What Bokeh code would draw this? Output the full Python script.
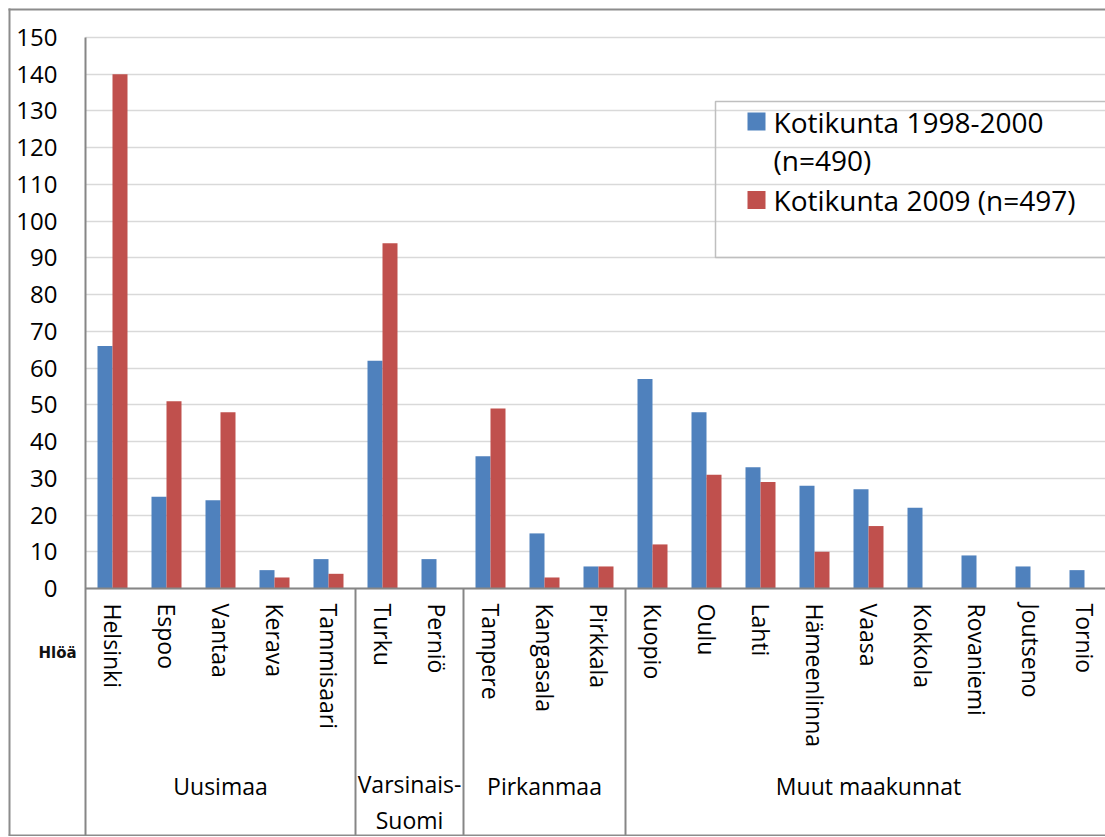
import numpy as np
from bokeh.plotting import figure
from bokeh.models import (Range1d, LinearAxis, FixedTicker, Grid)
from bokeh.core.properties import value
from bokeh.embed import file_html
from bokeh.resources import INLINE

# ---------------- data ----------------
cities = ["Helsinki", "Espoo", "Vantaa", "Kerava", "Tammisaari",
          "Turku", "Perniö",
          "Tampere", "Kangasala", "Pirkkala",
          "Kuopio", "Oulu", "Lahti", "Hämeenlinna", "Vaasa", "Kokkola",
          "Rovaniemi", "Joutseno", "Tornio"]
regions = ["Uusimaa", "Varsinais-\nSuomi", "Pirkanmaa", "Muut maakunnat"]
region_sizes = [5, 2, 3, 9]
v_1998_2000 = [66, 25, 24, 5, 8, 62, 8, 36, 15, 6, 57, 48, 33, 28, 27, 22, 9, 6, 5]
v_2009 = [140, 51, 48, 3, 4, 94, 0, 49, 3, 6, 12, 31, 29, 10, 17, 0, 0, 0, 0]
series_names = ["Kotikunta 1998-2000", "(n=490)", "Kotikunta 2009 (n=497)"]
y_ticks = list(range(0, 151, 10))
y_unit_label = "Hlöä"

# ---------------- layout helpers (page pixels -> data) ----------------
W, H = 1105, 836
X0_PX, CAT_PX = 85.0, 54.0          # page x of category axis start, px per category
Y0_PX, Y150_PX = 588.0, 37.0        # page y of value 0 and 150
PPU = (Y0_PX - Y150_PX) / 150.0


def xd(px):
    return (px - X0_PX) / CAT_PX


def yd(py):
    return (Y0_PX - py) / PPU


BLUE = "#4F81BD"
RED = "#C0504D"
AXIS = "#868686"
GRID = "#D9D9D9"
BORDER = "#8C8C8C"
FONT = "Open Sans"

p = figure(width=W, height=H, output_backend="svg", toolbar_location=None,
           x_range=Range1d(xd(0), xd(W)),
           y_range=Range1d(yd(H), yd(0)),
           x_axis_location=None, y_axis_location=None,
           min_border=0, outline_line_color=None,
           background_fill_color="white", border_fill_color="white")
p.xgrid.visible = False
p.ygrid.visible = False

x_end = xd(W)
y_bottom = yd(835)

# horizontal gridlines
g = Grid(dimension=1, ticker=FixedTicker(ticks=y_ticks), bounds=(0, 150),
         grid_line_color=GRID, grid_line_width=1.5)
try:
    g.cross_bounds = (0, x_end + 1)
except Exception:
    pass
p.add_layout(g)

# bars
idx = np.arange(len(cities))
bw = 15.0 / CAT_PX
p.vbar(x=idx + 0.5 - bw / 2, top=v_1998_2000, width=bw, fill_color=BLUE, line_color=None)
p.vbar(x=idx + 0.5 + bw / 2, top=v_2009, width=bw, fill_color=RED, line_color=None)

# y axis
ya = LinearAxis(fixed_location=0, ticker=FixedTicker(ticks=y_ticks),
                bounds=(y_bottom, 150))
ya.axis_line_color = AXIS
ya.axis_line_width = 2
ya.major_tick_line_color = None
ya.minor_tick_line_color = None
ya.major_tick_out = 0
ya.major_tick_in = 0
ya.major_label_standoff = 28
ya.major_label_text_font = FONT
ya.major_label_text_font_size = "24px"
ya.major_label_text_color = "black"
p.add_layout(ya, "left")

# category axis
cat_ticks = [float(i) + 0.5 for i in idx]
xa = LinearAxis(fixed_location=0, ticker=FixedTicker(ticks=cat_ticks),
                bounds=(0, x_end + 1),
                major_label_overrides={t: c for t, c in zip(cat_ticks, cities)})
xa.axis_line_color = AXIS
xa.axis_line_width = 2
xa.major_tick_line_color = None
xa.minor_tick_line_color = None
xa.major_tick_out = 0
xa.major_tick_in = 0
xa.major_label_orientation = "vertical"
xa.major_label_standoff = 15
xa.major_label_text_font = FONT
xa.major_label_text_font_size = "23px"
xa.major_label_text_color = "black"
p.add_layout(xa, "below")

# region separators and labels (one text per line)
cum = np.cumsum(region_sizes)
starts = np.concatenate([[0], cum[:-1]])
seps = cum[:-1]
p.segment(x0=seps, y0=0, x1=seps, y1=y_bottom, line_color=AXIS, line_width=2)
centers = (starts + cum) / 2.0
LINE_PX = 36.0
lx, ly, lt = [], [], []
for c, r in zip(centers, regions):
    for k, line in enumerate(r.split("\n")):
        lx.append(c)
        ly.append(yd(785 + k * LINE_PX) if "\n" not in r else yd(783 + k * LINE_PX))
        lt.append(line)
p.text(x=lx, y=ly, text=lt, text_align="center", text_baseline="middle",
       text_font=value(FONT), text_font_size="23px", text_color="black")

# unit label
p.text(x=[xd(57)], y=[yd(652)], text=[y_unit_label], text_align="center",
       text_baseline="middle", text_font=value("DejaVu Sans"),
       text_font_size="15px", text_font_style="bold", text_color="#111111")

# legend (manual, Excel style)
p.quad(left=[xd(715)], right=[x_end + 1], top=[yd(101)], bottom=[yd(257)],
       fill_color=None, line_color="#BFBFBF", line_width=1.5)
p.scatter(x=[xd(756), xd(756)], y=[yd(121), yd(199.5)], marker="square", size=18,
          fill_color=[BLUE, RED], line_color=None)
p.text(x=[xd(773)] * 3, y=[yd(121), yd(159), yd(199)], text=series_names,
       text_align="left", text_baseline="middle", text_font=value(FONT),
       text_font_size="28px", text_color="black")

# outer chart border (left, top, bottom) starting at x=8, y=8
bx = [xd(9), xd(8), xd(8)]
by0 = [yd(8), yd(9), yd(835)]
bx1 = [xd(9), x_end + 1, x_end + 1]
by1 = [yd(835), yd(9), yd(835)]
p.segment(x0=bx, y0=by0, x1=bx1, y1=by1, line_color=BORDER, line_width=2)

open("out.html", "w").write(file_html(p, INLINE))
